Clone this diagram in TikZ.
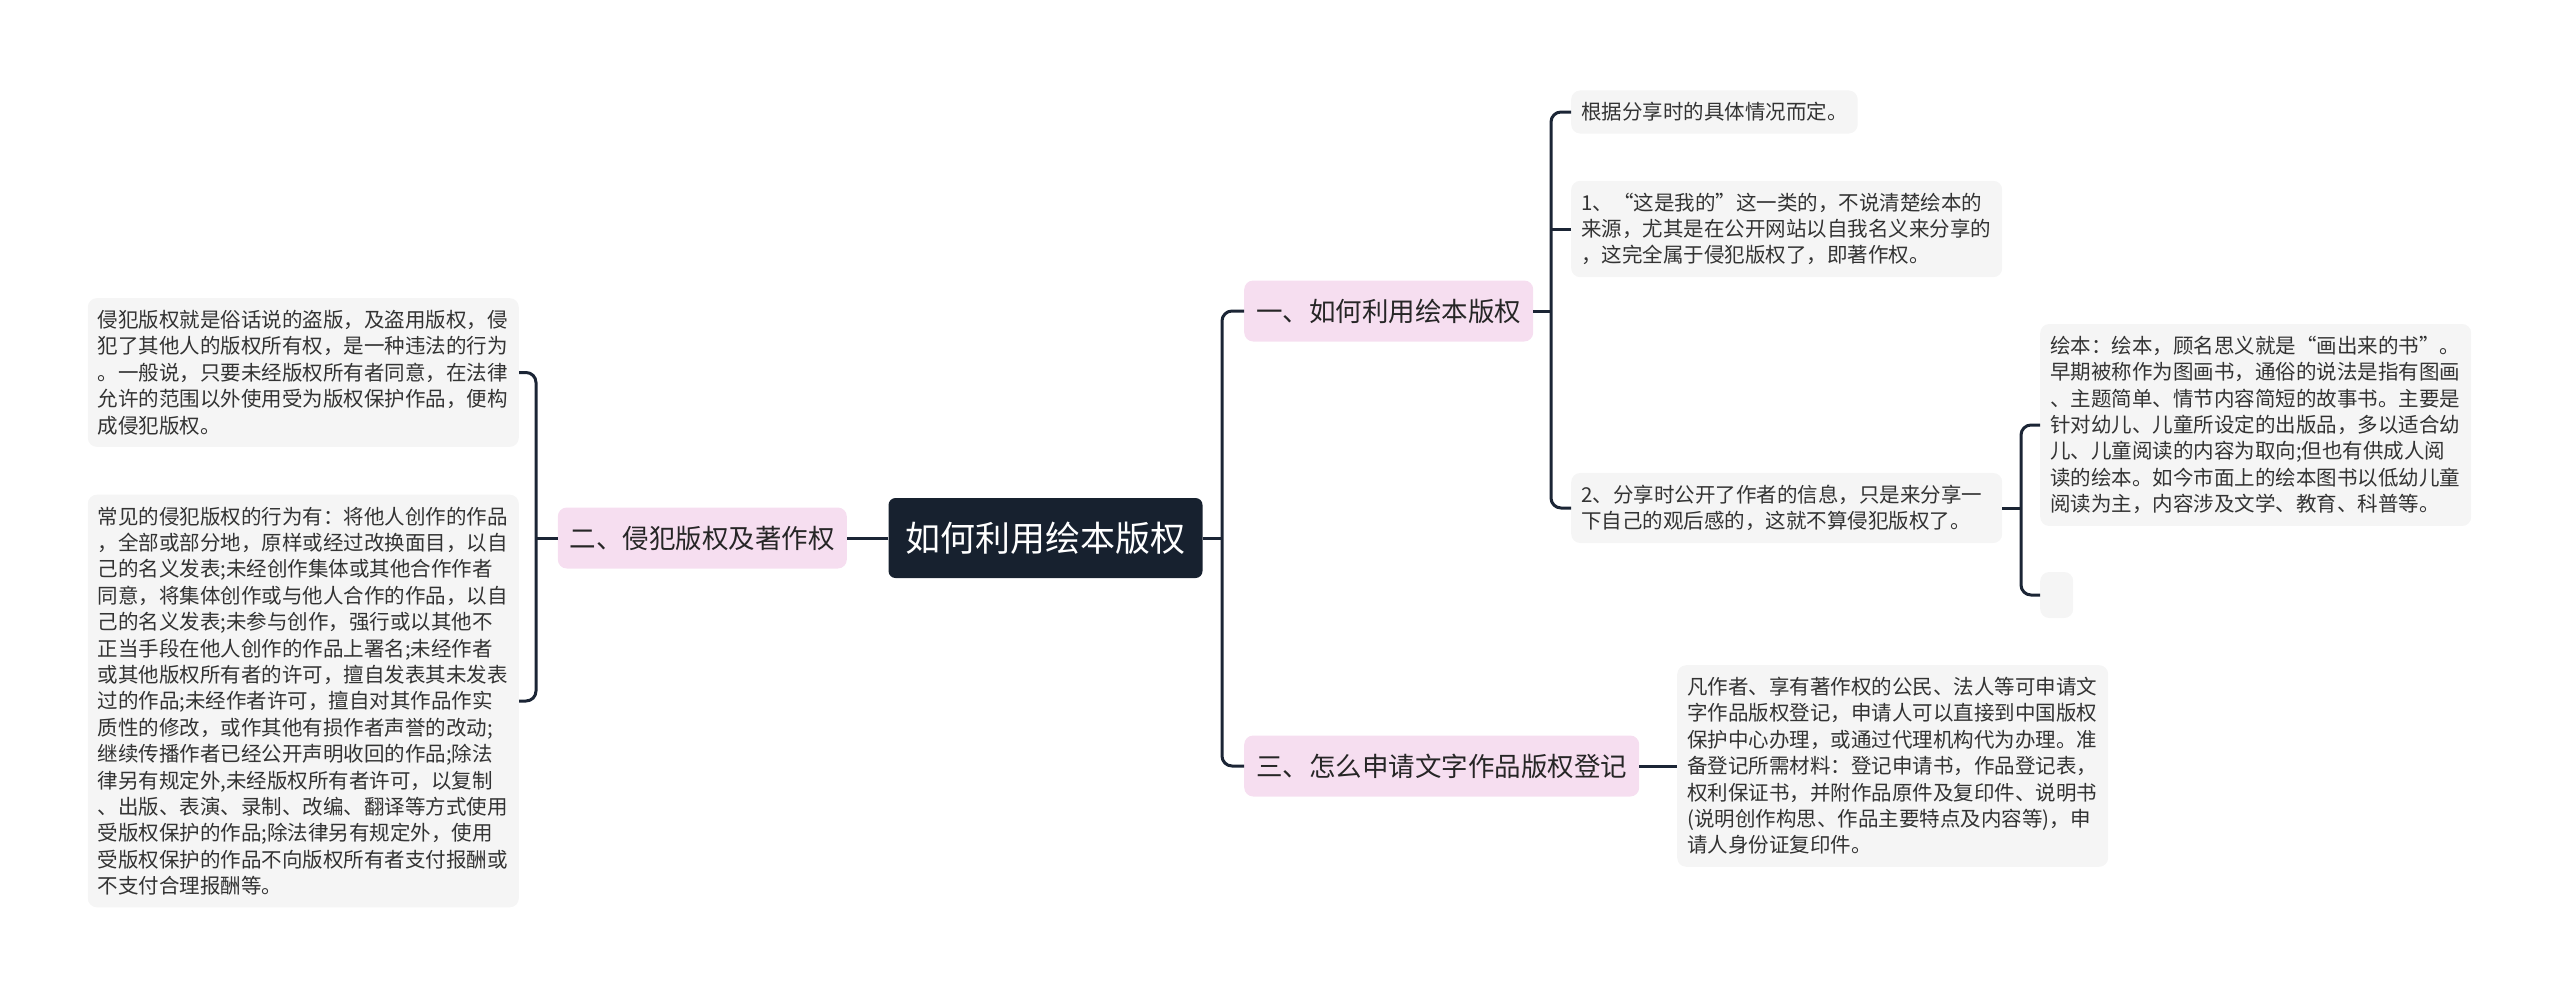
\documentclass[tikz,border=0pt]{standalone}
\usepackage{fontspec}
\setmainfont{Noto Sans CJK SC}
\definecolor{navy}{HTML}{17212F}
\definecolor{linknavy}{HTML}{1B2535}
\definecolor{pinkfill}{HTML}{F6DEF0}
\definecolor{leafgray}{HTML}{F5F5F5}
\definecolor{leaftext}{HTML}{333333}
\begin{document}
\begin{tikzpicture}[x=1pt, y=-1pt,
  centerbox/.style={fill=navy, text=white, rounded corners=7pt, minimum height=80pt, inner xsep=17pt, font=\fontsize{35}{42}\selectfont},
  topicbox/.style={fill=pinkfill, text=black!85, rounded corners=9pt, minimum height=61pt, inner xsep=12pt, font=\fontsize{26.5}{32}\selectfont},
  leafbox/.style={fill=leafgray, text=leaftext, rounded corners=9pt, align=left, inner xsep=10pt, inner ysep=12pt, font=\fontsize{20.5}{26.4}\selectfont},
  branch/.style={draw=linknavy, line width=3pt, rounded corners=10pt}]
  \useasboundingbox (0,0) rectangle (2560,999);
  % centre and the three topics
  \node[centerbox] (main) at (1045.5,538) {如何利用绘本版权};
  \node[topicbox, anchor=west] (t1) at (1244,311) {一、如何利用绘本版权};
  \node[topicbox, anchor=east] (t2) at (847,538) {二、侵犯版权及著作权};
  \node[topicbox, anchor=west] (t3) at (1244,766) {三、怎么申请文字作品版权登记};
  % left side
  \node[leafbox, anchor=east, text width=411pt] (l1) at (519,372.5) {侵犯版权就是俗话说的盗版，及盗用版权，侵\\犯了其他人的版权所有权，是一种违法的行为\\。一般说，只要未经版权所有者同意，在法律\\允许的范围以外使用受为版权保护作品，便构\\成侵犯版权。};
  \node[leafbox, anchor=east, text width=411pt] (l2) at (519,701) {常见的侵犯版权的行为有：将他人创作的作品\\，全部或部分地，原样或经过改换面目，以自\\己的名义发表;未经创作集体或其他合作作者\\同意，将集体创作或与他人合作的作品，以自\\己的名义发表;未参与创作，强行或以其他不\\正当手段在他人创作的作品上署名;未经作者\\或其他版权所有者的许可，擅自发表其未发表\\过的作品;未经作者许可，擅自对其作品作实\\质性的修改，或作其他有损作者声誉的改动;\\继续传播作者已经公开声明收回的作品;除法\\律另有规定外,未经版权所有者许可，以复制\\、出版、表演、录制、改编、翻译等方式使用\\受版权保护的作品;除法律另有规定外，使用\\受版权保护的作品不向版权所有者支付报酬或\\不支付合理报酬等。};
  % right side
  \node[leafbox, anchor=west] (c1) at (1571,112) {根据分享时的具体情况而定。};
  \node[leafbox, anchor=west, text width=411pt] (c2) at (1571,229) {1、“这是我的”这一类的，不说清楚绘本的\\来源，尤其是在公开网站以自我名义来分享的\\，这完全属于侵犯版权了，即著作权。};
  \node[leafbox, anchor=west, text width=411pt] (c3) at (1571,508) {2、分享时公开了作者的信息，只是来分享一\\下自己的观后感的，这就不算侵犯版权了。};
  \node[leafbox, anchor=west, text width=411pt] (d1) at (2040,425) {绘本：绘本，顾名思义就是“画出来的书”。\\早期被称作为图画书，通俗的说法是指有图画\\、主题简单、情节内容简短的故事书。主要是\\针对幼儿、儿童所设定的出版品，多以适合幼\\儿、儿童阅读的内容为取向;但也有供成人阅\\读的绘本。如今市面上的绘本图书以低幼儿童\\阅读为主，内容涉及文学、教育、科普等。};
  \node[leafbox, anchor=west, minimum width=33pt, minimum height=46pt, inner sep=0pt] (d2) at (2040,595) {};
  \node[leafbox, anchor=west, text width=411pt] (e1) at (1677,766) {凡作者、享有著作权的公民、法人等可申请文\\字作品版权登记，申请人可以直接到中国版权\\保护中心办理，或通过代理机构代为办理。准\\备登记所需材料：登记申请书，作品登记表，\\权利保证书，并附作品原件及复印件、说明书\\(说明创作构思、作品主要特点及内容等)，申\\请人身份证复印件。};
  % junctions
  \coordinate (jl) at (536,538);
  \coordinate (jr) at (1222,538);
  \coordinate (j1) at (1551,311);
  \coordinate (j3) at (2021,508);
  \draw[branch] (main.west) -- (t2.east);
  \draw[branch] (t2.west) -- (jl);
  \draw[branch] (l1.east) -| (jl) |- (l2.east);
  \draw[branch] (main.east) -- (jr);
  \draw[branch] (t1.west) -| (jr) |- (t3.west);
  \draw[branch] (t1.east) -- (j1);
  \draw[branch] (c1.west) -| (j1) |- (c3.west);
  \draw[branch] (c2.west) -- (c2.west -| j1);
  \draw[branch] (c3.east) -- (j3);
  \draw[branch] (d1.west) -| (j3) |- (d2.west);
  \draw[branch] (t3.east) -- (e1.west);
\end{tikzpicture}
\end{document}
